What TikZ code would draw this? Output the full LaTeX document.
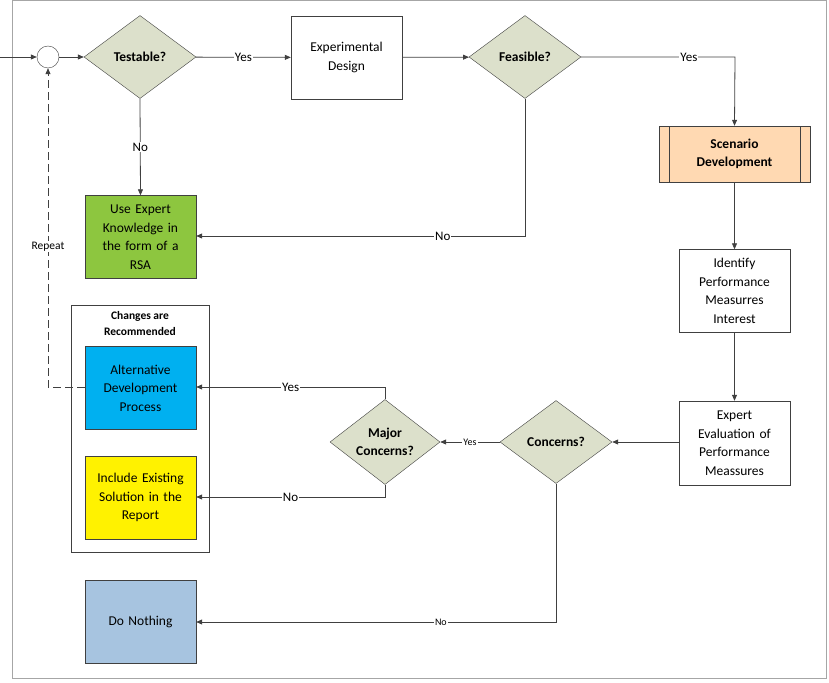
\documentclass[tikz,border=0pt]{standalone}
\usepackage{fontspec}
\setmainfont{Carlito}
\usetikzlibrary{shapes.geometric,arrows.meta}
\definecolor{dia}{HTML}{DCE0CB}
\definecolor{ln}{HTML}{404040}
\begin{document}
\begin{tikzpicture}[x=1pt,y=-1pt,
  every node/.style={font=\fontsize{13.5}{18.5}\selectfont},
  box/.style={draw=ln,fill=white,minimum width=111pt,minimum height=83pt,align=center,text width=105pt,inner sep=2pt},
  dmd/.style={diamond,draw=ln,fill=dia,minimum width=112pt,minimum height=83pt,aspect=1.35,inner sep=0pt,font=\fontsize{13.5}{18}\selectfont\bfseries,align=center},
  arr/.style={draw=ln,thick,-{Triangle[length=6pt,width=5pt]}},
  lab/.style={fill=white,inner sep=1pt,font=\fontsize{13}{14}\selectfont},
  slab/.style={fill=white,inner sep=1pt,font=\fontsize{10}{11}\selectfont}]
\useasboundingbox (0,0) rectangle (829,682);
\draw[gray!70] (12,0) rectangle (826,678);
\node[circle,draw=ln,fill=white,minimum size=22pt,inner sep=0pt] (c) at (48,57) {};
\coordinate (in) at (0,57);
\node[dmd] (t) at (140,57) {Testable?};
\node[box,minimum height=83pt] (e) at (346.5,57.5) {Experimental\\Design};
\node[dmd] (f) at (525,57) {Feasible?};
\node[box,fill=orange!30!white,draw=ln,minimum width=151pt,minimum height=56pt,font=\fontsize{13.5}{18}\selectfont\bfseries] (s) at (734.5,154) {Scenario\\Development};
\draw[ln] (669,126) -- (669,182) (800,126) -- (800,182);
\node[box] (i) at (734.5,291) {Identify\\Performance\\Measurres\\Interest};
\node[box,minimum height=84pt] (x) at (734.5,443) {Expert\\Evaluation of\\Performance\\Meassures};
\node[dmd] (co) at (556,442) {Concerns?};
\node[dmd,minimum width=110pt,minimum height=85pt] (m) at (385,442) {Major\\Concerns?};
\node[draw=ln,fill=white,minimum width=138pt,minimum height=247pt] (g) at (140,428.5) {};
\node[font=\fontsize{11.5}{16}\selectfont\bfseries,align=center] (gt) at (140,324) {Changes are\\Recommended};
\node[box,fill={rgb,255:red,141;green,198;blue,63}] (u) at (140.5,237) {Use Expert\\Knowledge in\\the form of a\\RSA};
\node[box,fill={rgb,255:red,0;green,176;blue,240}] (a) at (140.5,388) {Alternative\\Development\\Process};
\node[box,fill=yellow] (inc) at (140.5,497.5) {Include Existing\\Solution in the\\Report};
\node[box,fill={rgb,255:red,167;green,196;blue,224}] (d) at (140.5,621.5) {Do Nothing};
\draw[arr] (in) -- (c);
\draw[arr] (c) -- (t);
\draw[arr] (t) -- node[lab]{Yes} (e);
\draw[arr] (e) -- (f);
\draw[arr] (f.east) -- node[lab,pos=0.7]{Yes} (735,57) -- (s.north);
\draw[arr] (s) -- (i);
\draw[arr] (i) -- (x);
\draw[arr] (t.south) -- node[lab]{No} (u.north);
\draw[arr] (f.south) -- (525,236) -- node[lab,pos=0.25]{No} (u.east |- 0,236);
\draw[arr] (x.west |- co) -- (co.east);
\draw[arr] (co.west) -- node[slab]{Yes} (m.east);
\draw[arr] (m.north) -- (385,387) -- node[lab]{Yes} (a.east |- 0,387);
\draw[arr] (m.south) -- (385,497) -- node[lab]{No} (inc.east |- 0,497);
\draw[arr] (co.south) -- (556,622) -- node[slab,pos=0.32]{No} (d.east |- 0,622);
\draw[arr,dashed,dash pattern=on 8pt off 4pt] (a.west |- 0,387) -- (48,387) -- node[lab,pos=0.44,font=\fontsize{11.5}{13}\selectfont]{Repeat} (c.south);
\end{tikzpicture}
\end{document}
